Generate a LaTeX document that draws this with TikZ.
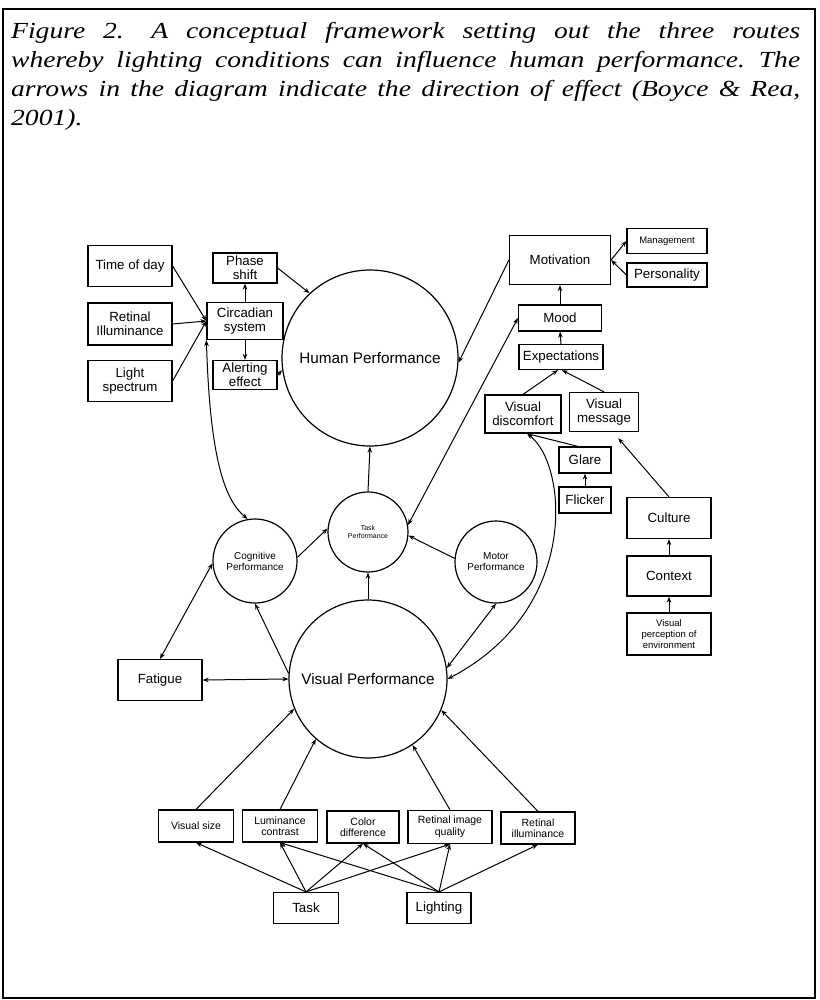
\documentclass[tikz,border=0pt]{standalone}
\usepackage{fontspec}
\usepackage{tikz}
\usetikzlibrary{arrows.meta}
\setmainfont{Liberation Serif}
\newfontfamily\capfont{Liberation Serif}[FakeStretch=1.2]
\newfontfamily\diagfont{Liberation Sans}

\begin{document}
\begin{tikzpicture}[x=1pt, y=-1pt,
    box/.style={draw, line width=1.2pt, inner sep=1pt, align=center,
        font=\diagfont\fontsize{13.3}{14}\selectfont},
    smallbox/.style={box, font=\diagfont\fontsize{10.5}{11.5}\selectfont},
    perf/.style={circle, draw, line width=1.2pt, inner sep=0pt, align=center},
    arr/.style={-{Stealth[length=6pt,width=4.5pt]}, line width=1pt},
    biarr/.style={{Stealth[length=6pt,width=4.5pt]}-{Stealth[length=6pt,width=4.5pt]}, line width=1pt}]

        \useasboundingbox (0,0) rectangle (819,1000);
        \draw[line width=1.6pt] (3,9) rectangle (815,998);

        \node[anchor=north west, inner sep=0pt, text width=789pt, align=justify,
            font=\capfont\itshape\fontsize{23}{29.2}\selectfont] (cap) at (11,22)
            {Figure 2.\hspace{1.2em}A conceptual framework setting out the three routes\linebreak
             whereby lighting conditions can influence human performance.\hspace{0.6em}The\linebreak
             arrows in the diagram indicate the direction of effect (Boyce \& Rea,\linebreak
             2001).};

        \node[box, minimum width=84pt, minimum height=41pt] (tod) at (130,266) {Time of day};
        \node[box, minimum width=84pt, minimum height=42pt] (retil) at (130,324) {Retinal\\Illuminance};
        \node[box, minimum width=84pt, minimum height=41pt] (spec) at (130,381) {Light\\spectrum};
        \node[box, minimum width=64pt, minimum height=30pt] (phase) at (245,268) {Phase\\shift};
        \node[box, minimum width=76pt, minimum height=37pt] (circ) at (245,321) {Circadian\\system};
        \node[box, minimum width=64pt, minimum height=29pt] (alert) at (245,375) {Alerting\\effect};

        \node[perf, minimum size=176pt, font=\diagfont\fontsize{15.3}{16}\selectfont] (hp) at (370,358) {Human Performance};

        \node[box, minimum width=101pt, minimum height=49pt] (motiv) at (560,260) {Motivation};
        \node[box, minimum width=80pt, minimum height=25pt, font=\diagfont\fontsize{9.5}{10}\selectfont] (mgmt) at (667,241) {Management};
        \node[box, minimum width=80pt, minimum height=24pt] (pers) at (667,275) {Personality};
        \node[box, minimum width=83pt, minimum height=26pt] (mood) at (560,318) {Mood};
        \node[box, minimum width=84pt, minimum height=25pt] (expect) at (561,357) {Expectations};
        \node[box, minimum width=76pt, minimum height=38pt] (vdisc) at (523,414) {Visual\\discomfort};
        \node[box, minimum width=69pt, minimum height=39pt] (vmsg) at (604,412) {Visual\\message};
        \node[box, minimum width=52pt, minimum height=26pt] (glare) at (585,460) {Glare};
        \node[box, minimum width=52pt, minimum height=26pt] (flick) at (585,500) {Flicker};

        \node[perf, minimum size=80pt, font=\diagfont\fontsize{7}{8}\selectfont] (taskp) at (368,532) {Task\\Performance};
        \node[perf, minimum size=84pt, font=\diagfont\fontsize{10}{11}\selectfont] (cogp) at (255,561) {Cognitive\\Performance};
        \node[perf, minimum size=82pt, font=\diagfont\fontsize{10}{11}\selectfont] (motp) at (496,562) {Motor\\Performance};
        \node[perf, minimum size=158pt, font=\diagfont\fontsize{15.3}{16}\selectfont] (vp) at (368,679) {Visual Performance};
        \node[box, minimum width=84pt, minimum height=41pt] (fat) at (160,680) {Fatigue};

        \node[box, minimum width=84pt, minimum height=41pt] (cult) at (669,518) {Culture};
        \node[box, minimum width=84pt, minimum height=40pt] (ctx) at (669,576) {Context};
        \node[box, minimum width=84pt, minimum height=42pt, font=\diagfont\fontsize{9.5}{11}\selectfont] (vpe) at (669,634) {Visual\\perception of\\environment};

        \node[smallbox, minimum width=75pt, minimum height=32pt] (vsize) at (196,826) {Visual size};
        \node[smallbox, minimum width=75pt, minimum height=32pt] (lumc) at (280,826) {Luminance\\contrast};
        \node[smallbox, minimum width=72pt, minimum height=32pt] (coldiff) at (363,827) {Color\\difference};
        \node[smallbox, minimum width=84pt, minimum height=33pt] (riq) at (450,827) {Retinal image\\quality};
        \node[smallbox, minimum width=74pt, minimum height=32pt] (retil2) at (538,828) {Retinal\\illuminance};
        \node[box, minimum width=65pt, minimum height=31pt] (task) at (306,908) {Task};
        \node[box, minimum width=64pt, minimum height=31pt] (light) at (439,908) {Lighting};

        \draw[arr] (tod.east) -- (circ.west);
        \draw[arr] (retil.east) -- (circ.west);
        \draw[arr] (spec.east) -- (circ.west);
        \draw[arr] (circ.north) -- (phase.south);
        \draw[arr] (circ.south) -- (alert.north);
        \draw[arr] (phase.east) -- (hp.133);
        \draw[arr] (alert.east) -- (hp.188);
        \draw[biarr] (circ.south west) .. controls (210,460) and (225,500) .. (cogp.100);

        \draw[arr] (motiv.west) -- (hp.-3);
        \draw[arr] (motiv.east) -- (mgmt.west);
        \draw[arr] (pers.west) -- (motiv.east);
        \draw[arr] (mood.north) -- (motiv.south);
        \draw[arr] (expect.north) -- (mood.south);
        \draw[arr] (vdisc.north) -- ([xshift=-3pt]expect.south);
        \draw[arr] (vmsg.north) -- ([xshift=1pt]expect.south);
        \draw[arr] (flick.north) -- (glare.south);
        \draw[arr] ([xshift=-7pt]glare.north) -- ([xshift=4pt]vdisc.south);
        \draw[biarr] ([xshift=4pt]vdisc.south) .. controls (568,465) and (580,610) .. (vp.east);

        \draw[arr] (taskp.north) -- (hp.south);
        \draw[arr] (vp.north) -- (taskp.south);
        \draw[arr] (cogp.5) -- (taskp.175);
        \draw[arr] (motp.175) -- (taskp.-5);
        \draw[biarr] (taskp.10) -- (mood.west);
        \draw[biarr] (motp.south) -- (vp.8);
        \draw[arr] (vp.176) -- (cogp.south);
        \draw[biarr] (fat.east) -- (vp.west);
        \draw[biarr] (fat.north) -- (cogp.183);

        \draw[arr] (vpe.north) -- (ctx.south);
        \draw[arr] (ctx.north) -- (cult.south);
        \draw[arr, shorten >=8pt] (cult.north) -- ([xshift=9pt]vmsg.south);

        \draw[arr] (vsize.north) -- (vp.202);
        \draw[arr] (lumc.north) -- (vp.229);
        \draw[arr] (riq.north) -- (vp.-56);
        \draw[arr] (retil2.north) -- (vp.-23);

        \draw[arr] (task.north) -- (vsize.south);
        \draw[arr] (task.north) -- (lumc.south);
        \draw[arr] (task.north) -- (coldiff.south);
        \draw[arr] (task.north) -- (riq.south);
        \draw[arr] (light.north) -- (lumc.south);
        \draw[arr] (light.north) -- (coldiff.south);
        \draw[arr] (light.north) -- (riq.south);
        \draw[arr] (light.north) -- (retil2.south);
    \end{tikzpicture}
\end{document}
